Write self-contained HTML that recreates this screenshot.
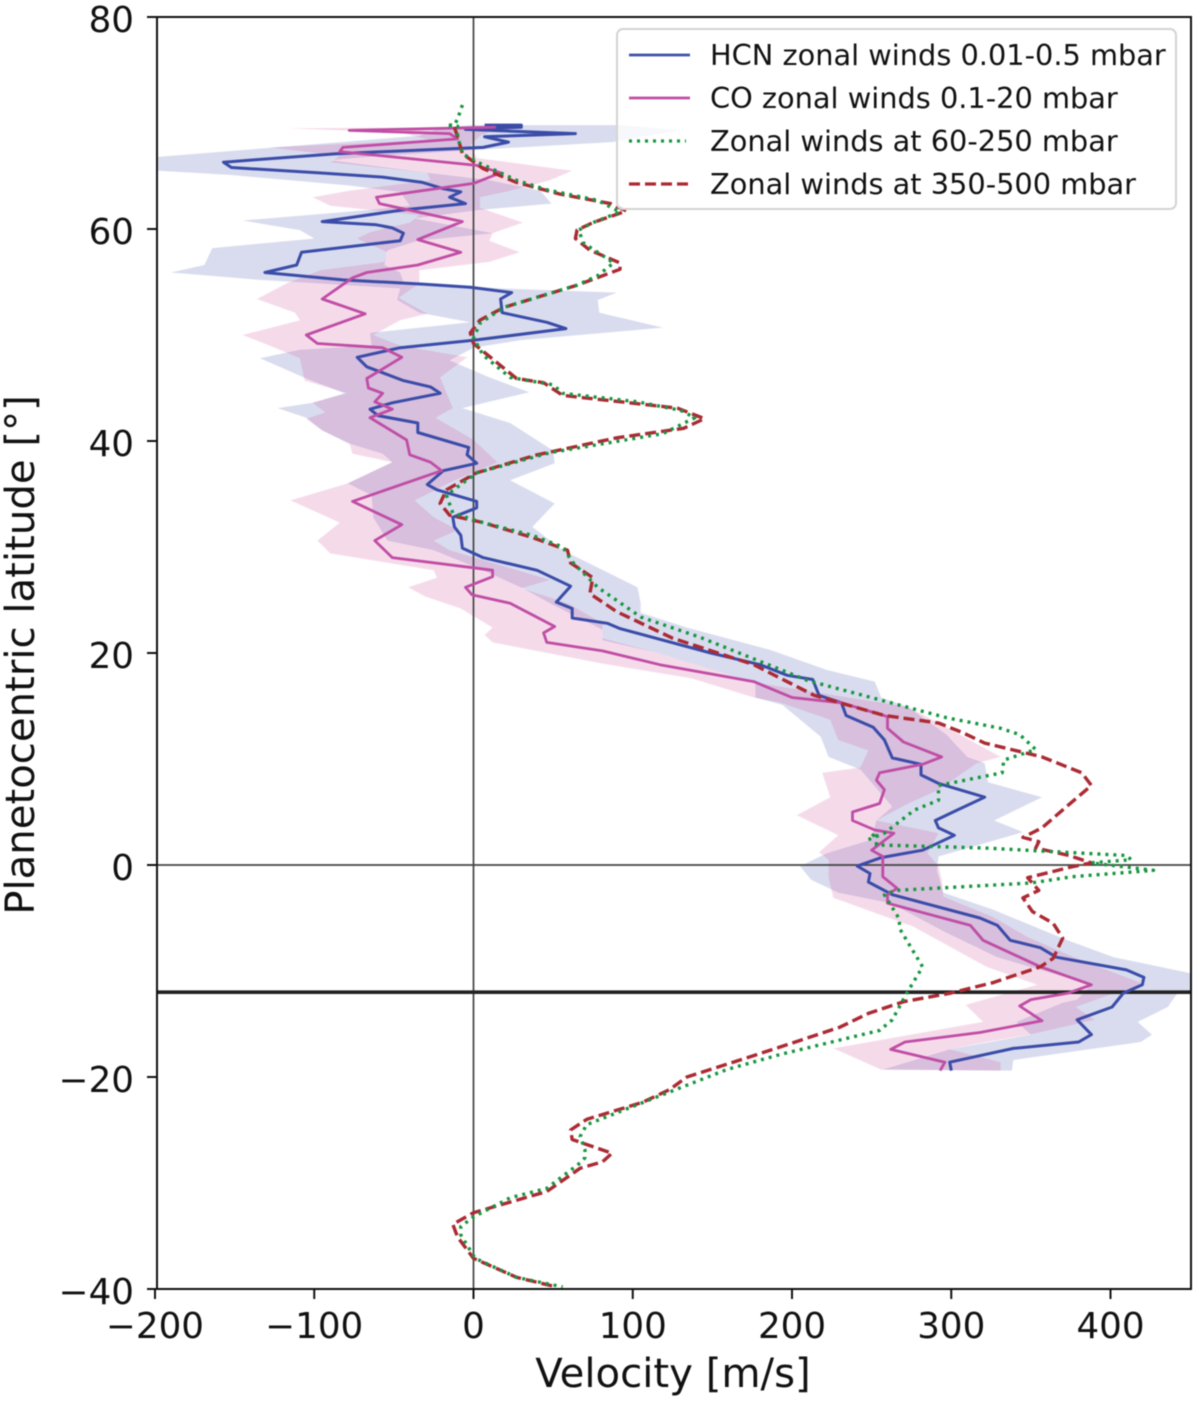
<!DOCTYPE html>
<html lang="en">
<head>
<meta charset="utf-8">
<title>Planetocentric latitude vs velocity</title>
<style>
html,body{margin:0;padding:0;background:#fff;}
#chart{display:block;width:1200px;height:1401px;filter:blur(0.6px);}
text{font-family:"DejaVu Sans","Liberation Sans",sans-serif;fill:#111;}
</style>
</head>
<body>
<svg id="chart" xmlns="http://www.w3.org/2000/svg" width="1200" height="1401" viewBox="0 0 1200 1401">
  <defs><clipPath id="plot-clip"><rect x="157" y="17" width="1034" height="1272"/></clipPath></defs>
  <g id="bands" clip-path="url(#plot-clip)"></g>
  <g id="refs" clip-path="url(#plot-clip)"></g>
  <g id="series" clip-path="url(#plot-clip)"></g>
  <g id="ticks"></g>
  <rect x="157" y="17" width="1034" height="1272" fill="none" stroke="#111" stroke-width="2"/>
  <g>
    <rect x="617" y="29" width="559" height="180" rx="6" fill="#fff" fill-opacity="0.8" stroke="#d4d4d4" stroke-width="2"/>
    <line x1="629" x2="690" y1="55" y2="55" stroke="#3f51a8" stroke-width="2.8"/>
    <text x="710" y="65" font-size="28.8">HCN zonal winds 0.01-0.5 mbar</text>
    <line x1="629" x2="690" y1="98" y2="98" stroke="#c04da5" stroke-width="2.8"/>
    <text x="710" y="108" font-size="28.8">CO zonal winds 0.1-20 mbar</text>
    <line x1="629" x2="686" y1="141" y2="141" stroke="#17963f" stroke-width="3.2" stroke-dasharray="3 5"/>
    <text x="710" y="151" font-size="28.8">Zonal winds at 60-250 mbar</text>
    <line x1="629" x2="690" y1="184" y2="184" stroke="#ab2a33" stroke-width="3.2" stroke-dasharray="11 5"/>
    <text x="710" y="194" font-size="28.8">Zonal winds at 350-500 mbar</text>
  </g>
  <text x="673" y="1387" font-size="40.2" text-anchor="middle">Velocity [m/s]</text>
  <text transform="translate(34,655) rotate(-90)" font-size="40.2" text-anchor="middle">Planetocentric latitude [°]</text>
</svg>
<script>
const xTickValues = [-200, -100, 0, 100, 200, 300, 400];
const yTickValues = [-40, -20, 0, 20, 40, 60, 80];
const equatorLat = 0;
const meridianVel = 0;
const boundaryLat = -12;

const hcnLat = [69.8,69.8,69.6,69.4,69.0,68.7,68.2,67.7,67.1,66.3,65.8,65.3,64.9,64.4,63.8,63.5,63.0,62.4,61.8,60.7,60.4,60.1,59.6,58.9,57.8,56.6,55.9,55.2,54.8,54.5,54.0,53.4,52.1,51.2,50.6,49.5,48.8,47.9,47.0,45.7,45.1,44.5,43.6,43.0,42.4,41.7,40.8,39.4,38.7,37.9,37.2,35.9,35.4,34.3,33.7,32.8,31.9,31.1,29.9,29.0,27.8,26.3,24.8,24.2,23.3,22.8,22.3,20.0,18.9,17.9,17.5,16.0,15.3,14.1,13.0,11.8,10.1,9.5,8.5,7.7,6.4,5.2,4.2,3.5,2.8,1.4,0.7,-0.1,-0.8,-1.6,-2.8,-5.0,-5.7,-7.1,-7.8,-8.7,-9.9,-10.6,-11.3,-12.1,-13.4,-14.6,-16.0,-16.7,-17.3,-18.6,-19.4];
const hcnVel = [7,30,30,-5,64,7,22,6,-86,-157,-152,-98,-57,-32,-19,-8,-15,-5,-44,-95,-61,-51,-44,-46,-108,-111,-131,-82,-32,-2,24,17,18,46,58,0,-46,-73,-67,-44,-27,-21,-51,-65,-60,-35,-35,-3,-4,2,-19,-29,-23,2,2,-13,-12,-8,-7,6,40,61,52,62,62,84,92,149,180,197,213,217,231,234,251,258,263,281,281,292,321,304,290,292,302,282,256,241,249,248,263,318,329,337,356,366,410,421,420,408,401,379,388,380,339,299,300];

const coLat = [69.6,69.3,69.0,68.5,67.7,67.3,66.9,66.0,65.3,64.3,63.0,62.4,60.7,59.0,57.8,56.6,55.9,55.4,53.4,52.0,50.0,49.2,48.8,47.9,45.9,45.0,44.5,43.7,43.0,42.2,40.1,38.7,38.0,37.2,34.3,32.1,30.6,29.0,28.0,27.8,27.2,26.2,25.5,24.7,22.5,21.9,21.0,20.2,18.9,17.3,15.8,15.3,14.0,12.9,11.6,10.2,9.5,8.7,8.0,7.1,5.8,5.0,4.2,3.3,3.0,1.4,0.8,-1.1,-2.2,-2.8,-3.6,-5.7,-7.1,-9.6,-11.3,-12.1,-12.7,-13.3,-14.7,-15.8,-16.7,-17.4,-18.6,-19.4];
const coVel = [14,-78,-15,-10,-82,-84,-57,2,17,0,-61,-59,-7,-35,-8,-35,-67,-76,-95,-68,-105,-98,-57,-45,-67,-66,-57,-62,-51,-65,-42,-40,-27,-20,-76,-45,-62,-51,2,12,12,-5,-1,23,51,44,46,81,117,176,200,231,260,260,270,294,282,255,253,258,255,238,238,252,264,250,257,257,266,260,260,312,320,356,388,373,350,343,357,318,271,262,296,293];

const midLat = [71.7,70.4,69.8,69.8,69.7,68.7,67.1,66.2,64.6,63.7,62.7,61.6,60.6,59.9,58.7,56.8,55.6,54.7,52.6,51.1,49.7,48.1,46.0,45.3,44.5,43.7,42.9,42.2,40.7,38.9,37.0,34.9,33.2,32.3,31.1,30.0,28.6,26.2,23.4,21.5,17.4,13.9,12.9,12.3,10.9,9.9,8.7,7.5,6.1,5.2,3.0,2.4,3.1,1.9,1.6,0.9,0.5,0.2,-0.5,-1.1,-1.7,-2.4,-2.8,-5.0,-6.1,-9.6,-12.1,-14.6,-15.6,-17.9,-19.3,-21.9,-24.5,-25.6,-26.9,-27.6,-28.1,-30.5,-31.4,-33.2,-34.1,-34.9,-37.1,-38.9,-39.8];
const midVel = [-7,-10,-12,-17,-10,-10,-7,4,27,46,78,92,75,66,69,88,78,65,19,4,0,6,23,50,56,103,130,139,119,48,2,-17,-13,6,37,56,62,78,105,142,210,297,331,343,353,333,332,292,292,277,258,248,253,253,321,410,413,388,427,376,350,265,258,267,268,282,272,263,255,192,159,115,71,67,70,70,67,46,23,0,-8,-8,1,27,56];

const deepLat = [69.6,68.7,67.1,65.7,64.4,63.3,62.4,61.7,60.6,59.9,59.1,58.0,56.8,56.2,54.7,52.6,51.4,50.2,49.2,45.9,45.5,44.3,43.1,42.1,41.2,40.3,38.7,37.0,35.4,34.1,33.0,32.3,30.9,29.7,28.5,27.1,25.6,23.9,21.4,18.9,16.0,14.1,13.4,12.5,11.5,10.2,8.7,7.5,5.2,3.5,2.6,2.2,1.6,0.9,0.2,-0.2,-1.2,-2.4,-3.1,-4.4,-5.5,-6.9,-8.8,-9.6,-11.1,-12.1,-12.9,-14.0,-15.3,-17.2,-18.8,-20.0,-21.2,-22.4,-24.0,-25.0,-25.9,-27.2,-28.0,-28.6,-30.8,-32.8,-33.9,-35.1,-37.1,-38.9,-39.8];
const deepVel = [-12,-10,-7,6,27,54,86,96,75,65,64,73,92,92,65,19,4,-2,0,27,44,56,128,145,132,90,40,2,-17,-21,-15,6,37,59,61,75,73,90,125,176,214,258,292,307,321,357,382,388,370,357,345,355,353,374,388,375,348,355,345,351,364,370,364,356,326,299,270,248,230,192,159,134,123,106,71,61,62,87,81,67,46,0,-13,-10,0,27,52];

const hcnLowLat = [69.8,69.5,68.8,66.8,65.5,65.1,64.1,63.5,62.2,61.8,60.8,59.9,59.1,58.2,56.6,55.9,55.2,54.4,53.3,52.1,51.2,50.2,49.0,48.6,47.8,45.9,44.5,43.6,43.1,42.2,41.0,39.8,38.8,38.0,36.0,34.9,32.8,30.6,29.7,27.8,26.1,24.7,22.2,21.2,20.1,17.2,15.8,15.1,12.1,10.2,9.0,5.5,4.2,2.4,1.1,-0.1,-1.4,-2.6,-3.6,-6.4,-8.7,-11.3,-12.7,-13.0,-14.8,-16.0,-17.4,-19.3];
const hcnLow = [-2,-21,-34,-198,-198,-153,-78,-46,-40,-65,-145,-109,-100,-164,-169,-190,-134,-46,-48,-34,-2,-65,-64,-109,-134,-105,-81,-101,-123,-105,-95,-79,-57,-51,-79,-64,-63,-54,-25,6,31,48,81,81,113,177,177,194,218,223,243,263,253,250,222,205,212,229,262,297,329,388,379,370,341,350,299,257];
const hcnHighLat = [69.8,69.3,68.7,68.2,67.6,66.9,66.5,65.3,64.6,63.6,62.4,61.8,61.0,59.6,58.9,58.0,56.6,55.9,55.0,54.4,54.0,53.3,52.1,50.7,49.5,48.8,47.6,46.0,44.6,43.1,41.7,39.1,37.9,36.3,34.1,31.9,29.7,26.2,24.7,23.8,22.4,20.3,18.4,17.3,15.8,14.9,12.3,10.2,9.6,7.8,6.4,4.2,3.1,0.8,-0.5,-2.6,-4.2,-7.1,-8.7,-10.2,-11.9,-12.1,-13.4,-14.8,-16.0,-16.7,-18.4,-19.4];
const hcnHigh = [92,130,105,87,17,-59,-90,-29,10,42,49,4,-37,12,-35,-54,-56,-46,-44,17,90,78,79,119,29,0,-15,10,35,-7,23,50,51,23,51,37,56,103,105,105,134,186,222,252,256,273,297,310,321,323,357,327,345,292,291,295,326,373,402,450,450,442,436,417,426,419,339,338];

const coLowLat = [69.5,69.1,68.4,67.7,66.9,66.3,65.3,64.6,63.6,63.0,62.2,61.3,60.6,59.7,59.1,57.8,56.9,56.1,54.9,53.4,52.1,51.4,50.0,49.0,47.8,45.7,44.5,43.6,42.7,42.1,41.0,39.8,38.8,38.0,36.0,34.4,32.3,30.6,29.4,27.8,27.1,26.2,25.3,24.2,22.4,21.7,21.0,19.0,17.6,15.8,15.3,13.7,11.8,10.8,9.2,8.7,6.4,4.7,2.8,1.2,0.5,-1.2,-3.1,-5.8,-9.6,-11.3,-13.2,-14.8,-17.3,-19.3];
const coLow = [-117,-46,-27,-128,-84,-90,-29,-27,-78,-101,-90,-34,-40,-65,-73,-54,-56,-96,-117,-136,-112,-109,-145,-128,-109,-106,-79,-101,-93,-105,-95,-78,-76,-51,-79,-115,-84,-98,-90,-25,-23,-41,-30,-8,12,7,12,81,137,176,193,224,229,248,243,219,224,203,229,217,223,223,226,276,322,354,309,320,226,256];
const coHighLat = [69.6,68.8,67.9,66.7,65.5,64.6,63.6,63.0,62.0,60.6,59.6,58.9,57.8,56.9,56.1,54.9,53.5,52.0,51.4,50.0,49.0,47.9,46.0,43.1,42.2,40.1,38.0,36.3,34.4,32.8,31.6,30.6,29.7,26.9,26.1,24.7,22.8,21.4,20.1,17.2,14.9,13.0,10.2,9.6,7.1,5.8,4.2,3.0,1.1,-0.1,-1.4,-3.0,-4.9,-6.8,-8.7,-11.3,-12.1,-13.4,-14.6,-16.0,-16.7,-17.4,-18.6,-19.4];
const coHigh = [17,4,-2,2,62,48,23,4,4,31,12,10,29,10,-34,-34,-47,-29,-46,-63,-46,-4,-21,-13,-24,0,15,-12,-37,-25,-10,-25,-15,48,30,59,81,81,113,177,273,297,331,316,292,273,253,292,285,292,294,295,326,348,377,422,402,378,390,349,322,299,331,331];

const xAt = v => 473.5 + v * 1.5925;
const yAt = lat => 865 - lat * 10.6;
const fmt = v => String(v).replace('-', '\u2212');
const NS = 'http://www.w3.org/2000/svg';
const bandsG = document.getElementById('bands');
const refsG = document.getElementById('refs');
const seriesG = document.getElementById('series');
const ticksG = document.getElementById('ticks');

function pts(lats, vels) {
  return lats.map((lat, i) => xAt(vels[i]).toFixed(1) + ',' + yAt(lat).toFixed(1));
}

function drawBand(name, lowLat, low, highLat, high, color) {
  const el = document.createElementNS(NS, 'polygon');
  
  
  const left = pts(lowLat, low);
  const right = pts(highLat, high).reverse();
  el.setAttribute('points', left.concat(right).join(' '));
  el.setAttribute('fill', color);
  el.setAttribute('fill-opacity', '0.2');
  bandsG.appendChild(el);
}

function drawLine(name, lats, vels, color, width, dash) {
  const el = document.createElementNS(NS, 'polyline');
  
  
  el.setAttribute('points', pts(lats, vels).join(' '));
  el.setAttribute('fill', 'none');
  el.setAttribute('stroke', color);
  el.setAttribute('stroke-width', width);
  el.setAttribute('stroke-linejoin', 'round');
  if (dash) el.setAttribute('stroke-dasharray', dash);
  seriesG.appendChild(el);
}

function drawRule(name, x1, y1, x2, y2, width, color) {
  const el = document.createElementNS(NS, 'line');
  
  
  el.setAttribute('x1', x1);
  el.setAttribute('y1', y1);
  el.setAttribute('x2', x2);
  el.setAttribute('y2', y2);
  el.setAttribute('stroke', color);
  el.setAttribute('stroke-width', width);
  refsG.appendChild(el);
}

drawBand('hcn-uncertainty-band', hcnLowLat, hcnLow, hcnHighLat, hcnHigh, '#3f4fa8');
drawBand('co-uncertainty-band', coLowLat, coLow, coHighLat, coHigh, '#cf4a98');

drawRule('zero-velocity-line', xAt(meridianVel), 17, xAt(meridianVel), 1289, 1.7, '#444');
drawRule('equator-line', 157, yAt(equatorLat), 1191, yAt(equatorLat), 1.7, '#444');
drawRule('boundary-latitude-line', 157, yAt(boundaryLat), 1191, yAt(boundaryLat), 3.6, '#222');

drawLine('hcn-zonal-winds-line', hcnLat, hcnVel, '#3a4ca8', 3, '');
drawLine('co-zonal-winds-line', coLat, coVel, '#c04da5', 2.8, '');
drawLine('zonal-winds-350-500-line', deepLat, deepVel, '#ab2a33', 3.4, '11 5');
drawLine('zonal-winds-60-250-line', midLat, midVel, '#17963f', 3.4, '3 5');

xTickValues.forEach(v => {
  const t = document.createElementNS(NS, 'line');
  
  
  t.setAttribute('x1', xAt(v));
  t.setAttribute('x2', xAt(v));
  t.setAttribute('y1', 1289);
  t.setAttribute('y2', 1299);
  t.setAttribute('stroke', '#111');
  t.setAttribute('stroke-width', 2);
  ticksG.appendChild(t);
  const l = document.createElementNS(NS, 'text');
  
  
  l.setAttribute('x', xAt(v));
  l.setAttribute('y', 1338);
  l.setAttribute('font-size', '35.7');
  l.setAttribute('text-anchor', 'middle');
  l.textContent = fmt(v);
  ticksG.appendChild(l);
});

yTickValues.forEach(lat => {
  const t = document.createElementNS(NS, 'line');
  
  
  t.setAttribute('x1', 147);
  t.setAttribute('x2', 157);
  t.setAttribute('y1', yAt(lat));
  t.setAttribute('y2', yAt(lat));
  t.setAttribute('stroke', '#111');
  t.setAttribute('stroke-width', 2);
  ticksG.appendChild(t);
  const l = document.createElementNS(NS, 'text');
  
  
  l.setAttribute('x', 134);
  l.setAttribute('y', yAt(lat) + 15);
  l.setAttribute('font-size', '35.7');
  l.setAttribute('text-anchor', 'end');
  l.textContent = fmt(lat);
  ticksG.appendChild(l);
});
</script>
</body>
</html>
